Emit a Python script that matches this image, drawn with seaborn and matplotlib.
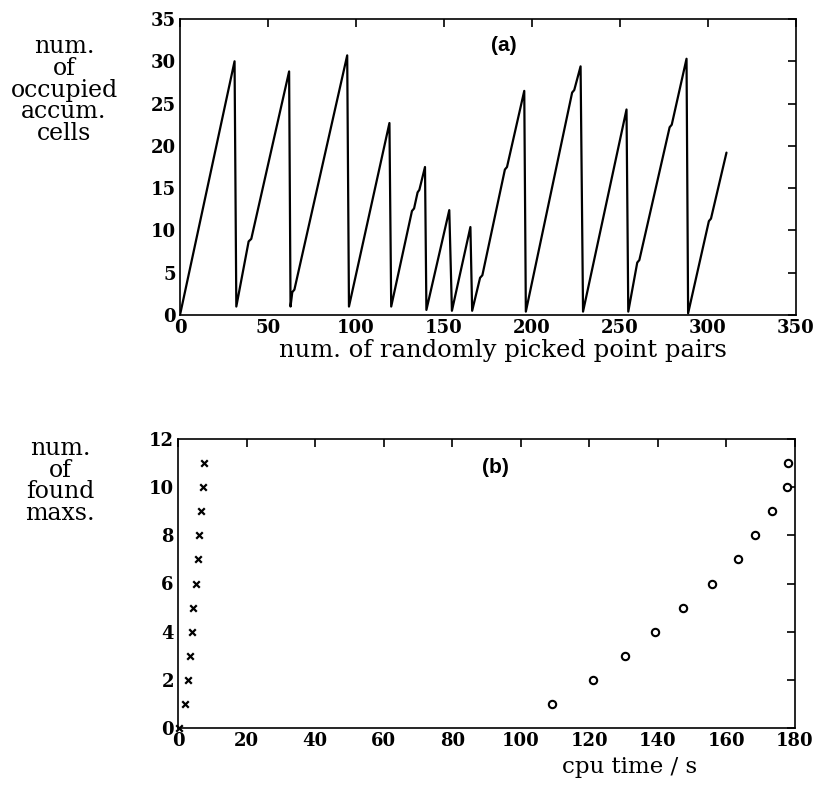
import matplotlib
matplotlib.use("Agg")
import matplotlib.pyplot as plt
import seaborn as sns
import pandas as pd

# ---- data (a): occupied accumulator cells vs picked point pairs ----
pairs = [0, 31, 32, 39.0, 40.5, 62, 62.8, 63.8, 65.0, 95, 96, 119, 120,
         131.8, 133.0, 135.0, 136.0, 139.2, 140, 153, 154.5, 165, 166,
         170.5, 171.8, 184.6, 185.8, 195.6, 196.5, 222.8, 224.0, 227.6,
         229, 253.7, 254.7, 259.8, 261.0, 278.2, 279.4, 287.8, 288.7,
         300.5, 301.7, 310.5]
cells = [0, 30, 1, 8.7, 9.0, 28.8, 1, 2.7, 3.0, 30.7, 1, 22.7, 1,
         12.3, 12.6, 14.5, 14.8, 17.5, 0.6, 12.4, 0.5, 10.4, 0.5,
         4.4, 4.7, 17.2, 17.5, 26.5, 0.4, 26.3, 26.6, 29.4,
         0.4, 24.3, 0.4, 6.2, 6.5, 22.2, 22.5, 30.3, 0.2,
         11.1, 11.4, 19.2]

# ---- data (b): found maxima vs cpu time ----
cpu_fast = [0.3, 2.0, 3.0, 3.5, 4.2, 4.5, 5.2, 5.7, 6.1, 6.7, 7.2, 7.7]
max_fast = [0, 1, 2, 3, 4, 5, 6, 7, 8, 9, 10, 11]
cpu_slow = [109.0, 121.0, 130.5, 139.2, 147.4, 155.8, 163.5, 168.4, 173.4, 177.6, 178.0]
max_slow = [1, 2, 3, 4, 5, 6, 7, 8, 9, 10, 11]

xticks_a = [0, 50, 100, 150, 200, 250, 300, 350]
yticks_a = [0, 5, 10, 15, 20, 25, 30, 35]
xticks_b = [0, 20, 40, 60, 80, 100, 120, 140, 160, 180]
yticks_b = [0, 2, 4, 6, 8, 10, 12]

sns.set_style("white")
plt.rcParams["font.family"] = ["DejaVu Serif"]
plt.rcParams["text.color"] = "black"
plt.rcParams["axes.labelcolor"] = "black"

fig = plt.figure(figsize=(8.14, 7.85), dpi=100)
ax1 = fig.add_axes([180/814, 1-315/785, 616/814, 296/785])
ax2 = fig.add_axes([178/814, 1-728/785, 617/814, 289/785])

df_a = pd.DataFrame({"pairs": pairs, "cells": cells})
sns.lineplot(data=df_a, x="pairs", y="cells", sort=False, estimator=None,
             color="black", linewidth=1.6, ax=ax1)

df_f = pd.DataFrame({"cpu": cpu_fast, "maxs": max_fast})
df_s = pd.DataFrame({"cpu": cpu_slow, "maxs": max_slow})
sns.scatterplot(data=df_f, x="cpu", y="maxs", marker="x", color="black",
                s=22, linewidth=1.6, ax=ax2, clip_on=False)
sns.scatterplot(data=df_s, x="cpu", y="maxs", marker="o", facecolor="white",
                edgecolor="black", s=28, linewidth=1.5, ax=ax2, clip_on=False)

for ax, xt, yt, xl, yl in [(ax1, xticks_a, yticks_a, (0, 350), (0, 35)),
                           (ax2, xticks_b, yticks_b, (0, 180), (0, 12))]:
    ax.set_xlim(*xl)
    ax.set_ylim(*yl)
    ax.set_xticks(xt)
    ax.set_yticks(yt)
    ax.set_xlabel("")
    ax.set_ylabel("")
    ax.tick_params(direction="in", length=6, width=1.2, top=True, right=True,
                   labelsize=13, pad=3, colors="black")
    for lab in ax.get_xticklabels() + ax.get_yticklabels():
        lab.set_fontweight("bold")
    for sp in ax.spines.values():
        sp.set_visible(True)
        sp.set_color("black")
        sp.set_linewidth(1.2)

ax1.text(0.525, 0.91, "(a)", transform=ax1.transAxes, ha="center", va="center",
         fontsize=15, fontweight="bold", color="black", family=["Liberation Sans"])
ax2.text(0.515, 0.90, "(b)", transform=ax2.transAxes, ha="center", va="center",
         fontsize=15, fontweight="bold", color="black", family=["Liberation Sans"])

fig.text(503/814, 1-350/785, "num. of randomly picked point pairs", ha="center",
         va="center", fontsize=17.5, color="black")
fig.text(630/814, 1-767/785, "cpu time / s", ha="center", va="center",
         fontsize=16.5, color="black")

fig.text(64/814, 1-90/785, "num.\nof\noccupied\naccum.\ncells", ha="center",
         va="center", fontsize=17, linespacing=0.92, color="black")
fig.text(60/814, 1-481/785, "num.\nof\nfound\nmaxs.", ha="center",
         va="center", fontsize=17, linespacing=0.92, color="black")

fig.savefig("out.png", dpi=100, facecolor="white")
